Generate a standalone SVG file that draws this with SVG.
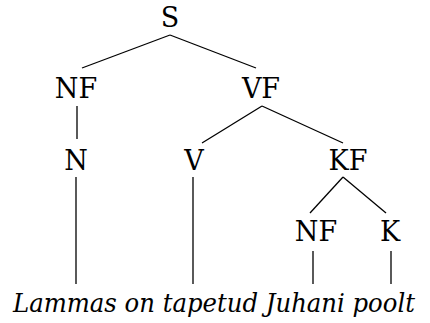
<svg xmlns="http://www.w3.org/2000/svg" width="430" height="323" viewBox="0 0 430 323">
  <style>
    .edge { stroke: #000; stroke-width: 1.3; fill: none; }
    .lbl { text-anchor: middle; }
  </style>
  <rect width="430" height="323" fill="#fff"/>
  <!-- tree branches -->
  <g id="edges">
    <line class="edge" x1="170" y1="35" x2="82" y2="68"/>
    <line class="edge" x1="170" y1="35" x2="256" y2="68"/>
    <line class="edge" x1="77" y1="106" x2="77" y2="139"/>
    <line class="edge" x1="262" y1="106" x2="202" y2="143"/>
    <line class="edge" x1="262" y1="106" x2="343" y2="143"/>
    <line class="edge" x1="343" y1="177" x2="310" y2="213"/>
    <line class="edge" x1="343" y1="177" x2="386" y2="213"/>
    <line class="edge" x1="76" y1="177" x2="76" y2="284"/>
    <line class="edge" x1="193" y1="177" x2="193" y2="284"/>
    <line class="edge" x1="313" y1="251" x2="313" y2="284"/>
    <line class="edge" x1="391" y1="251" x2="391" y2="284"/>
  </g>
  <g id="S"><text class="lbl" font-family="'DejaVu Serif', 'Liberation Serif', serif" font-size="27" x="170" y="27">S</text></g>
  <g id="NF1"><text class="lbl" font-family="'DejaVu Serif', 'Liberation Serif', serif" font-size="27" x="76" y="98">NF</text></g>
  <g id="VF"><text class="lbl" font-family="'DejaVu Serif', 'Liberation Serif', serif" font-size="27" x="261" y="98">VF</text></g>
  <g id="N"><text class="lbl" font-family="'DejaVu Serif', 'Liberation Serif', serif" font-size="27" x="76" y="170">N</text></g>
  <g id="V"><text class="lbl" font-family="'DejaVu Serif', 'Liberation Serif', serif" font-size="27" x="194" y="170">V</text></g>
  <g id="KF"><text class="lbl" font-family="'DejaVu Serif', 'Liberation Serif', serif" font-size="27" x="348" y="170">KF</text></g>
  <g id="NF2"><text class="lbl" font-family="'DejaVu Serif', 'Liberation Serif', serif" font-size="27" x="316" y="241">NF</text></g>
  <g id="K"><text class="lbl" font-family="'DejaVu Serif', 'Liberation Serif', serif" font-size="27" x="390" y="241">K</text></g>
  <g id="sentence"><text font-family="'DejaVu Serif', 'Liberation Serif', serif" font-size="26" font-style="italic" x="13" y="312" textLength="402" lengthAdjust="spacingAndGlyphs">Lammas on tapetud Juhani poolt</text></g>
</svg>
